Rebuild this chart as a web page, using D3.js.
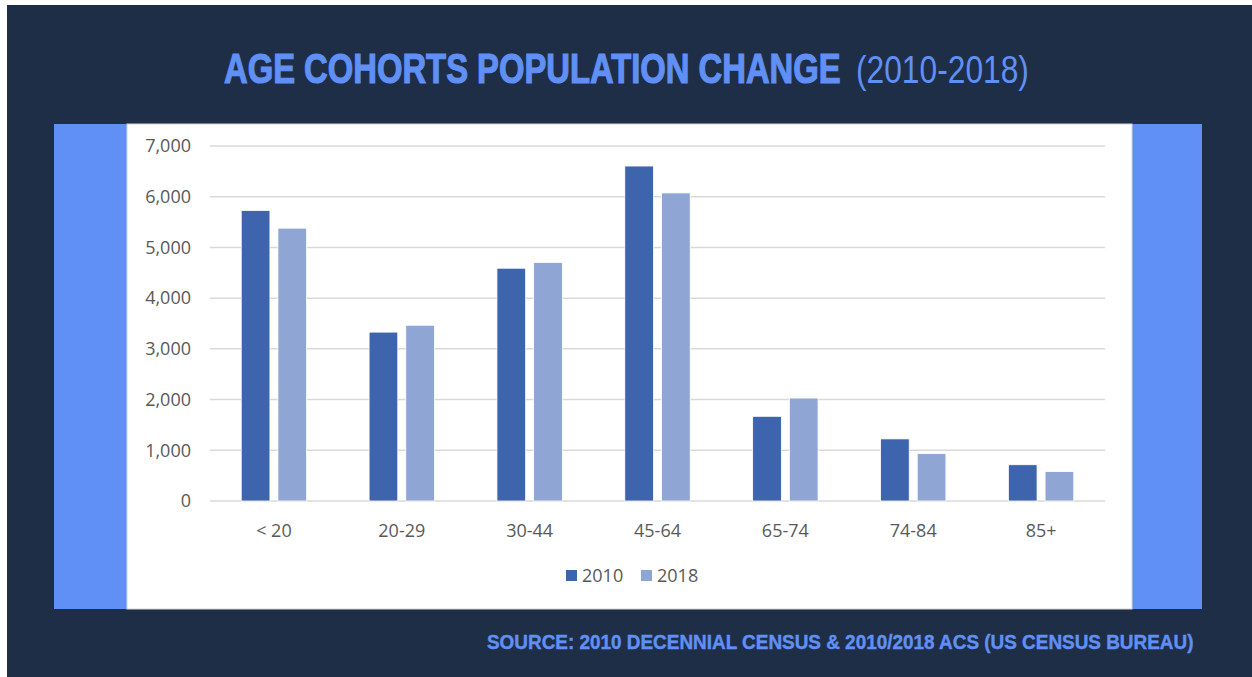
<!DOCTYPE html>
<html>
<head>
<meta charset="utf-8">
<script src="https://cdn.jsdelivr.net/npm/d3@7"></script>
<style>
  html, body { margin: 0; padding: 0; background: #fff; }
  svg { display: block; }
</style>
</head>
<body>
<svg id="chart"></svg>
<script>
// data
var cohorts = ["< 20", "20-29", "30-44", "45-64", "65-74", "74-84", "85+"];
var pop2010 = [5730, 3330, 4590, 6605, 1670, 1225, 715];
var pop2018 = [5380, 3465, 4705, 6075, 2030, 935, 580];
var seriesNames = ["2010", "2018"];
var yTicks = [0, 1000, 2000, 3000, 4000, 5000, 6000, 7000];

var width = 1252, height = 677;
var colors = ["#3d64ad", "#8fa5d4"];
var navy = "#1f2e47", brightBlue = "#6090f5";
var condensed = "'Liberation Sans Narrow', 'Liberation Sans', Arial, sans-serif";

var svg = d3.select("#chart")
  .attr("width", width)
  .attr("height", height);

// squeeze a text horizontally so it spans exactly w pixels
function fitText(sel, x0, y0, w) {
  var len = sel.node().getComputedTextLength();
  sel.attr("transform", "translate(" + x0 + "," + y0 + ") scale(" + (w / len) + ",1)");
  return sel;
}

// background panels
svg.append("rect").attr("x", 7).attr("y", 5).attr("width", width - 7).attr("height", height - 5).attr("fill", navy);
svg.append("rect").attr("x", 54).attr("y", 124).attr("width", 1148).attr("height", 485).attr("fill", brightBlue);
svg.append("rect").attr("x", 127).attr("y", 124).attr("width", 1005).attr("height", 485)
  .attr("fill", "#fff").attr("stroke", "#d4d4d4").attr("stroke-width", 1);

// title
var t1 = svg.append("text")
  .style("font-family", condensed)
  .style("font-weight", "bold").style("font-size", "42px")
  .attr("fill", brightBlue)
  .attr("stroke", brightBlue).attr("stroke-width", 1.2)
  .text("AGE COHORTS POPULATION CHANGE");
fitText(t1, 224, 83, 617);

var t2 = svg.append("text")
  .style("font-family", condensed)
  .style("font-size", "39px")
  .attr("fill", brightBlue)
  .text("(2010-2018)");
fitText(t2, 856, 83, 173);

// source line
var src = svg.append("text")
  .style("font-family", condensed)
  .style("font-weight", "bold").style("font-size", "19.5px")
  .attr("fill", brightBlue)
  .attr("stroke", brightBlue).attr("stroke-width", 0.4)
  .text("SOURCE: 2010 DECENNIAL CENSUS & 2010/2018 ACS (US CENSUS BUREAU)");
fitText(src, 487, 649, 707);

// scales
var x = d3.scaleBand()
  .domain(cohorts)
  .range([210, 1105])
  .padding(0);

var y = d3.scaleLinear()
  .domain([0, 7000])
  .range([501, 146]);

var barW = 28.7, barGap = 8;

// gridlines
svg.append("g")
  .selectAll("line")
  .data(yTicks)
  .enter().append("line")
  .attr("x1", 210).attr("x2", 1105)
  .attr("y1", function(d) { return y(d); })
  .attr("y2", function(d) { return y(d); })
  .attr("stroke", "#d9d9d9")
  .attr("stroke-width", 1.5);

// y labels
svg.append("g")
  .selectAll("text")
  .data(yTicks)
  .enter().append("text")
  .attr("x", 191)
  .attr("y", function(d) { return y(d); })
  .attr("dy", "0.35em")
  .attr("text-anchor", "end")
  .style("font-family", "'Open Sans', sans-serif")
  .style("font-size", "18px")
  .attr("fill", "#595959")
  .text(d3.format(","));

// bars
var series = [pop2010, pop2018];
series.forEach(function(vals, s) {
  svg.append("g")
    .selectAll("rect")
    .data(vals)
    .enter().append("rect")
    .attr("x", function(d, i) {
      var c = x(cohorts[i]) + x.bandwidth() / 2;
      return s === 0 ? c - barGap / 2 - barW : c + barGap / 2;
    })
    .attr("y", function(d) { return y(d); })
    .attr("width", barW)
    .attr("height", function(d) { return y(0) - y(d); })
    .attr("fill", colors[s])
    .attr("stroke", "#fff")
    .attr("stroke-width", 0.8);
});

// x labels
svg.append("g")
  .selectAll("text")
  .data(cohorts)
  .enter().append("text")
  .attr("x", function(d) { return x(d) + x.bandwidth() / 2; })
  .attr("y", 537)
  .attr("text-anchor", "middle")
  .style("font-family", "'Open Sans', sans-serif")
  .style("font-size", "18px")
  .attr("fill", "#595959")
  .text(function(d) { return d; });

// legend
var legendX = [566, 641];
seriesNames.forEach(function(name, s) {
  svg.append("rect")
    .attr("x", legendX[s]).attr("y", 570)
    .attr("width", 11).attr("height", 11)
    .attr("fill", colors[s]);
  svg.append("text")
    .attr("x", legendX[s] + 16).attr("y", 582)
    .style("font-family", "'Open Sans', sans-serif")
    .style("font-size", "18px")
    .attr("fill", "#595959")
    .text(name);
});
</script>
</body>
</html>
